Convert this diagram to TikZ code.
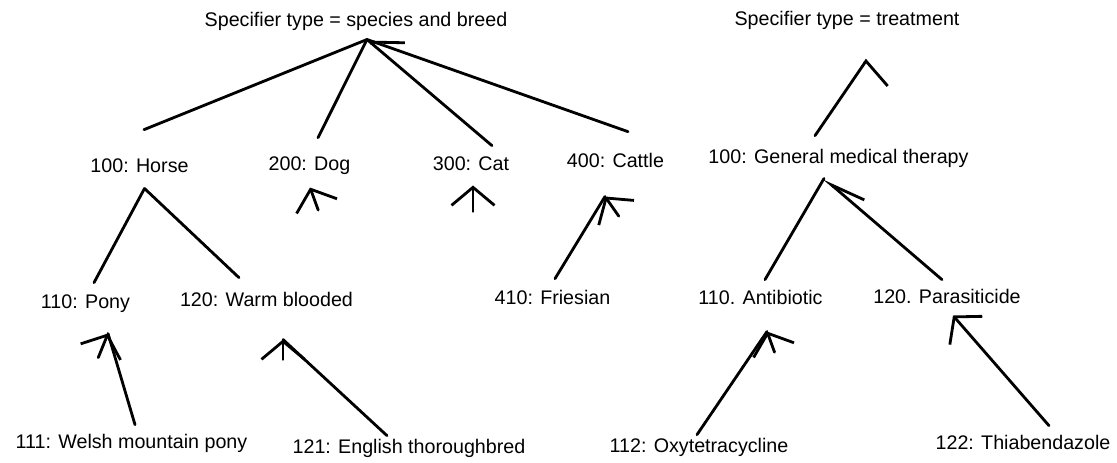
\documentclass[tikz,border=0pt]{standalone}
\usepackage{fontspec}
\setmainfont{Liberation Sans}
\usetikzlibrary{arrows.meta,calc}
\tikzset{
 every node/.append style={font=\fontsize{14}{16}\selectfont},
 lbl/.style={anchor=base,inner sep=.1cm,text height=10pt,text depth=3pt},
 link/.style={draw=black,line width=2pt,line cap=round,line join=round},
 isa/.style={link,-{Straight Barb[length=4.5mm,width=10.75mm]}},
}
\begin{document}
\begin{tikzpicture}[x=.025cm,y=-.025cm]
\useasboundingbox (0,0) rectangle (1117,462);

% species and breed
\node[lbl] (breed) at (356,26) {Specifier type = species and breed};
\node[lbl] (horse) at (139.5,172) {100: Horse};
\node[lbl] (dog) at (309.5,170) {200: Dog};
\node[lbl] (cat) at (471,170) {300: Cat};
\node[lbl] (cattle) at (615.5,167) {400: Cattle};
\node[lbl] (pony) at (85.5,308) {110: Pony};
\node[lbl] (warm) at (266.5,306) {120: Warm blooded};
\node[lbl] (friesian) at (552.5,304) {410: Friesian};
\node[lbl] (welsh) at (131.5,448) {111: Welsh mountain pony};
\node[lbl] (english) at (409,453) {121: English thoroughbred};

% treatment
\node[lbl] (treat) at (847,25) {Specifier type = treatment};
\node[lbl] (gmt) at (838.5,163) {100: General medical therapy};
\node[lbl] (anti) at (760.5,304) {110. Antibiotic};
\node[lbl] (para) at (947,303) {120. Parasiticide};
\node[lbl] (oxy) at (699,452) {112: Oxytetracycline};
\node[lbl] (thia) at (1023,449) {122: Thiabendazole};

\coordinate (breed-in) at ($(breed.south)+(11,5)$);
\coordinate (horse-in) at ($(horse.south)+(5,8)$);
\coordinate (dog-in) at ($(dog.south)+(.5,9)$);
\coordinate (cat-in) at ($(cat.south)+(2,7)$);
\coordinate (cattle-in) at ($(cattle.south)+(-10.5,21)$);
\coordinate (pony-in) at ($(pony.south)+(22.5,17)$);
\coordinate (warm-in) at ($(warm.south)+(16.5,25)$);
\coordinate (treat-in) at ($(treat.south)+(20,26)$);
\coordinate (gmt-in) at ($(gmt.south)+(-14.5,7)$);
\coordinate (anti-in) at ($(anti.south)+(6.5,19)$);
\coordinate (para-in) at ($(para.south)+(6,4)$);

\draw[link] ($(horse.north)+(4.5,-24)$) -- (breed-in);
\draw[link] ($(dog.north)+(8.5,-14)$) -- (breed-in);
\draw[link,-{Straight Barb[harpoon,swap,length=6.75mm,width=11mm]}]
  ($(cat.north)+(21,-6)$) -- (breed-in);
\draw[link] ($(cattle.north)+(12.5,-17)$) -- (breed-in);

\draw[link] (horse-in) -- ($(pony.north)+(8.5,-7)$);
\draw[link] (horse-in) -- ($(warm.north)+(-27.5,-10)$);
\draw[isa] ($(dog-in)+(70:24)$) -- (dog-in);
\draw[isa] ($(cat-in)+(90:26)$) -- (cat-in);

\draw[link] ($(welsh.north)+(3.5,-5)$) -- (pony-in);
\draw[isa] ($(pony-in)+(112:26)$) -- (pony-in);
\draw[link] ($(english.north)+(-22,1)$) -- (warm-in);
\draw[isa] ($(warm-in)+(90:20)$) -- (warm-in);
\draw[link] ($(friesian.north)+(2.5,-7)$) -- (cattle-in);
\draw[isa] ($(cattle-in)+(55:24)$) -- (cattle-in);

\draw[link,-{Straight Barb[harpoon,swap,length=2.1mm,width=16mm]}]
  ($(gmt.north)+(-23.5,-9)$) -- (treat-in);
\draw[link] ($(anti.north)+(4.5,-6)$) -- (gmt-in);
\draw[link,-{Straight Barb[harpoon,swap,length=8.65mm,width=5mm]}]
  ($(para.north)+(-5,-5)$) -- (gmt-in);
\draw[link] ($(oxy.north)+(-2,1)$) -- (anti-in);
\draw[isa] ($(anti-in)+(70:22)$) -- (anti-in);
\draw[isa] ($(thia.north)+(26,-5)$) -- (para-in);
\end{tikzpicture}
\end{document}
